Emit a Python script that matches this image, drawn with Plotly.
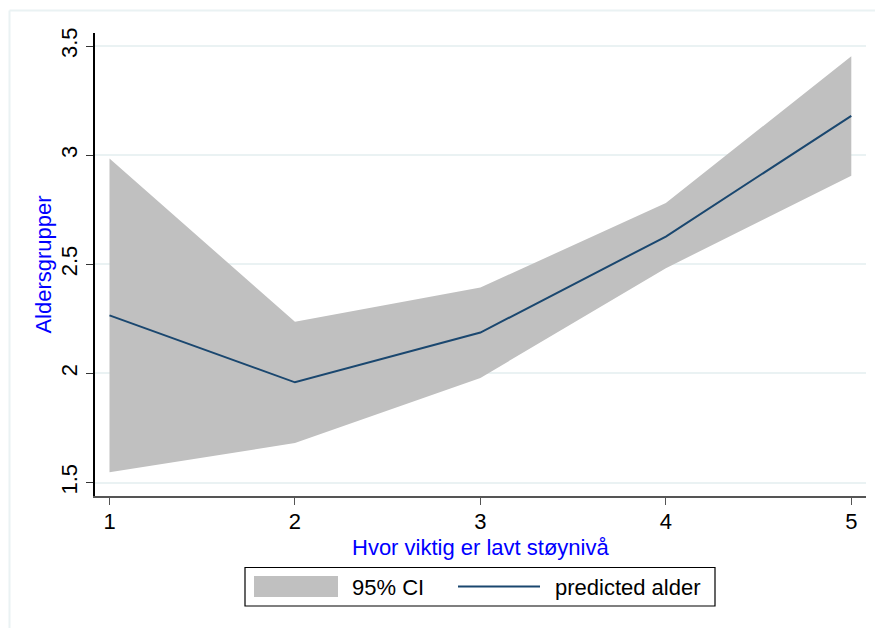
import plotly.graph_objects as go

# Data
x_vals = [1, 2, 3, 4, 5]
predicted = [2.266, 1.959, 2.187, 2.627, 3.180]
ci_lower = [1.547, 1.681, 1.979, 2.482, 2.905]
ci_upper = [2.985, 2.236, 2.393, 2.781, 3.453]
y_ticks = [1.5, 2, 2.5, 3, 3.5]
y_tick_labels = ["1.5", "2", "2.5", "3", "3.5"]
x_ticks = [1, 2, 3, 4, 5]
x_title = "Hvor viktig er lavt støynivå"
y_title = "Aldersgrupper"
legend_labels = ["95% CI", "predicted alder"]

W, H = 875, 628
L, R, T, B = 95, 866, 33, 496
FONT = "Liberation Sans, Arial, sans-serif"
FS = 22
CI_COLOR = "#c0c0c0"
LINE_COLOR = "#1a476f"
GRID = "#eaf2f3"


def px(x):
    return (x - L) / (R - L)


def py(y):
    return (B - y) / (B - T)


fig = go.Figure()
fig.add_trace(go.Scatter(x=x_vals, y=ci_lower, mode="lines", line=dict(width=0, color=CI_COLOR),
                         showlegend=False, hoverinfo="skip"))
fig.add_trace(go.Scatter(x=x_vals, y=ci_upper, mode="lines", line=dict(width=0, color=CI_COLOR),
                         fill="tonexty", fillcolor=CI_COLOR, name=legend_labels[0], showlegend=False))
fig.add_trace(go.Scatter(x=x_vals, y=predicted, mode="lines", line=dict(width=2, color=LINE_COLOR),
                         name=legend_labels[1], showlegend=False))

shapes = [
    # outer graph-region frame (light)
    dict(type="line", xref="paper", yref="paper", x0=px(9.5), x1=px(900), y0=py(10.5), y1=py(10.5),
         line=dict(color=GRID, width=2)),
    dict(type="line", xref="paper", yref="paper", x0=px(9.5), x1=px(9.5), y0=py(10.5), y1=py(700),
         line=dict(color=GRID, width=2)),
    # legend box
    dict(type="rect", xref="paper", yref="paper", x0=px(245), x1=px(715), y0=py(567.5), y1=py(606),
         line=dict(color="black", width=1.2), fillcolor="white"),
    dict(type="rect", xref="paper", yref="paper", x0=px(254), x1=px(338), y0=py(576), y1=py(597),
         line=dict(width=0), fillcolor=CI_COLOR),
    dict(type="line", xref="paper", yref="paper", x0=px(458), x1=px(540), y0=py(586.5), y1=py(586.5),
         line=dict(color=LINE_COLOR, width=2)),
]

annotations = [
    dict(text=x_title, xref="paper", yref="paper", x=px(480), y=py(547), xanchor="center",
         yanchor="middle", showarrow=False, font=dict(family=FONT, size=FS, color="#0000ff")),
    dict(text=legend_labels[0], xref="paper", yref="paper", x=px(350), y=py(587), xanchor="left",
         yanchor="middle", showarrow=False, font=dict(family=FONT, size=FS, color="black")),
    dict(text=legend_labels[1], xref="paper", yref="paper", x=px(553), y=py(587), xanchor="left",
         yanchor="middle", showarrow=False, font=dict(family=FONT, size=FS, color="black")),
]

fig.update_layout(
    width=W, height=H,
    margin=dict(l=L, r=W - R, t=T, b=H - B, pad=0),
    paper_bgcolor="white", plot_bgcolor="white",
    font=dict(family=FONT, size=FS, color="black"),
    showlegend=False,
    shapes=shapes,
    annotations=annotations,
    xaxis=dict(
        range=[1 - 14.5 / 185.45, 5 + 14.7 / 185.45],
        tickmode="array", tickvals=x_ticks, ticktext=[str(v) for v in x_ticks],
        showgrid=False, zeroline=False,
        showline=True, linecolor="#555555", linewidth=1.5,
        ticks="outside", ticklen=7, tickwidth=1.3, tickcolor="#555555",
        ticklabelstandoff=-2,
        tickfont=dict(family=FONT, size=FS, color="black"),
    ),
    yaxis=dict(
        range=[1.5 - 13.5 / 218.25, 3.5 + 13 / 218.25],
        tickmode="array", tickvals=y_ticks, ticktext=y_tick_labels,
        tickangle=-90,
        showgrid=True, gridcolor=GRID, gridwidth=1.5, zeroline=False,
        showline=True, linecolor="black", linewidth=1.5,
        ticks="outside", ticklen=7, tickwidth=1.3, tickcolor="#333333",
        tickfont=dict(family=FONT, size=FS, color="black"),
        title=dict(text=y_title, font=dict(family=FONT, size=FS, color="#0000ff"), standoff=0),
    ),
)

fig.write_html("out.html", config={"displayModeBar": False},
               post_script="document.body.style.margin='0';document.body.style.overflow='hidden';")
